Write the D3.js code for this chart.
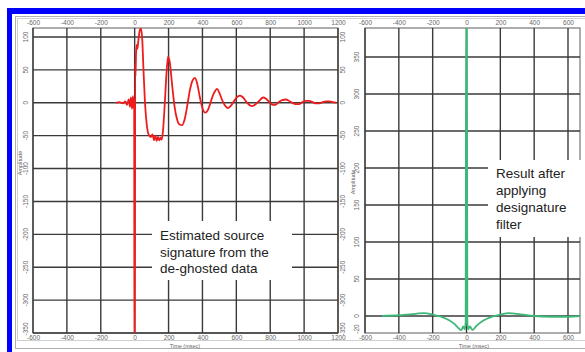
<!DOCTYPE html>
<html><head><meta charset="utf-8">
<script src="https://cdn.jsdelivr.net/npm/d3@7/dist/d3.min.js"></script>
<style>body{margin:0;background:#fff}svg{display:block}</style>
</head><body>
<script>
// ---- data ----
const leftXTicks = [-600,-400,-200,0,200,400,600,800,1000,1200];
const leftYTicks = [-350,-300,-250,-200,-150,-100,-50,0,50,100];
const rightXTicks = [-600,-400,-200,0,200,400,600];
const rightYTicks = [0,50,100,150,200,250,300,350];
const rightYBottomLabel = [-20];
// estimated source signature (time msec, amplitude)
const sourceTime = [-110,-90,-70,-55,-45,-35,-28,-22,-16,-10,-6,-3,-1,1,3,5,8,12,16,22,30,37,45,52,60,70,82,95,105,115,122,130,137,145,152,160,168,178,188,197,207,220,235,250,265,280,295,310,325,340,356,370,385,400,415,430,445,460,475,486,500,515,530,551,570,590,610,622,640,660,680,695,715,735,758,775,795,815,830,850,870,893,910,930,950,970,990,1010,1030,1050,1070,1090,1110,1130,1150,1170,1190];
const sourceAmp  = [0,1,-1,2,-3,5,-6,8,-9,10,-8,6,-420,-420,60,40,75,88,82,95,110,113,95,50,5,-30,-48,-52,-48,-57,-50,-58,-52,-57,-53,-56,-40,0,45,70,62,30,-5,-25,-33,-34,-25,-5,18,33,38,28,8,-8,-15,-12,-2,10,18,21,15,5,-3,-8,-4,4,10,11,8,1,-4,-5,-2,3,8,6,1,-3,-3,1,4,5,3,0,-2,-2,1,3,3,1,-1,-1,1,2,2,1,0];
// result after designature filter
const resultTime = [-500,-400,-300,-250,-200,-150,-100,-70,-45,-30,-20,-10,-5,-2,2,5,10,20,35,60,100,150,200,250,300,400,500,600,680];
const resultAmp  = [0,1,3,4,2,-1,-6,-11,-17,-19,-14,-18,-8,420,420,-8,-18,-14,-19,-13,-6,-1,2,4,3,0,-1,-1,0];

const W = 585, H = 352;
const svg = d3.select("body").append("svg").attr("width", W).attr("height", H);

// blue outer frame
svg.append("rect").attr("x",9.5).attr("y",11).attr("width",W).attr("height",H).attr("fill","none")
  .attr("stroke","#0000ff").attr("stroke-width",5);
svg.append("rect").attr("x",7).attr("y",8).attr("width",W).attr("height",6).attr("fill","#0000ff");
// inner grey frame
svg.append("rect").attr("x",15.5).attr("y",16.5).attr("width",570).attr("height",332).attr("fill","none")
  .attr("stroke","#b0b0b0").attr("stroke-width",1);
svg.append("rect").attr("x",17.5).attr("y",18.5).attr("width",570).attr("height",322).attr("fill","none")
  .attr("stroke","#d0d0d0").attr("stroke-width",1);

const FONT = "'Liberation Sans', Arial, sans-serif";
const fmt = d => String(d);

function panel(opt) {
  const g = svg.append("g");
  const x = d3.scaleLinear().domain(opt.xDomain).range(opt.xRange);
  const y = d3.scaleLinear().domain(opt.yDomain).range(opt.yRange);
  const [L, R] = [opt.box.x0, opt.box.x1];
  const [T, B] = [opt.box.y0, opt.box.y1];
  // frame
  g.append("rect").attr("x",L).attr("y",T).attr("width",R-L).attr("height",B-T)
    .attr("fill","#fff").attr("stroke","#777").attr("stroke-width",1.2);
  // grid
  g.selectAll(".vg").data(opt.xTicks).join("line")
    .attr("x1",d=>x(d)).attr("x2",d=>x(d)).attr("y1",T).attr("y2",B)
    .attr("stroke","#3a3a3a").attr("stroke-width",1.4);
  g.selectAll(".hg").data(opt.yTicks).join("line")
    .attr("x1",L).attr("x2",R).attr("y1",d=>y(d)).attr("y2",d=>y(d))
    .attr("stroke","#3a3a3a").attr("stroke-width",1.4);
  // top / bottom axes labels
  const xa = d3.axisTop(x).tickValues(opt.xTicks).tickFormat(fmt).tickSize(0).tickPadding(3);
  const ga = g.append("g").attr("transform",`translate(0,${T})`).call(xa);
  const xb = d3.axisBottom(x).tickValues(opt.xTicks).tickFormat(fmt).tickSize(0).tickPadding(2);
  const gb = g.append("g").attr("transform",`translate(0,${B})`).call(xb);
  [ga,gb].forEach(a=>{a.select(".domain").remove();
    a.selectAll("text").attr("font-family",FONT).attr("font-size",6.5).attr("fill","#666");});
  // y labels (rotated)
  opt.yLabelX.forEach(lx=>{
    g.selectAll(null).data(opt.yTicks.concat(opt.extraY||[])).join("text")
      .attr("transform",d=>`translate(${lx},${Math.min(y(d),B-4)}) rotate(-90)`)
      .attr("text-anchor","middle").attr("font-family",FONT).attr("font-size",6.5).attr("fill","#666")
      .text(fmt);
  });
  // axis titles
  g.append("text").attr("transform",`translate(${opt.ampX},${opt.ampY}) rotate(-90)`)
    .attr("text-anchor","middle").attr("font-family",FONT).attr("font-size",5.5).attr("fill","#666").text("Amplitude");
  g.append("text").attr("x",opt.timeX).attr("y",B+14.5).attr("text-anchor","middle")
    .attr("font-family",FONT).attr("font-size",5.5).attr("fill","#666").text("Time (msec)");
  // clip
  const id = "clip"+opt.name;
  svg.append("clipPath").attr("id",id).append("rect").attr("x",L).attr("y",T).attr("width",R-L).attr("height",B-T);
  // annotation box
  g.append("rect").attr("x",opt.note.x0).attr("y",opt.note.y0).attr("width",opt.note.x1-opt.note.x0)
    .attr("height",opt.note.y1-opt.note.y0).attr("fill","#fff");
  // curve
  const pts = opt.t.map((d,i)=>[d,opt.v[i]]);
  g.append("path").attr("clip-path",`url(#${id})`).datum(pts)
    .attr("d", d3.line().x(d=>x(d[0])).y(d=>y(d[1])).curve(d3.curveMonotoneX))
    .attr("fill","none").attr("stroke",opt.color).attr("stroke-width",opt.sw);
  // note text
  const tx = g.append("text").attr("font-family",FONT).attr("font-size",13.5).attr("fill","#222");
  opt.note.lines.forEach((s,i)=>tx.append("tspan").attr("x",opt.note.tx).attr("y",opt.note.ty+i*opt.note.lh).text(s));
  return g;
}

panel({name:"L", xDomain:[-600,1200], xRange:[33,338], yDomain:[-350,100], yRange:[333,37],
  box:{x0:33,x1:338,y0:28,y1:333}, xTicks:leftXTicks, yTicks:leftYTicks,
  yLabelX:[28,345], ampX:22, ampY:163, timeX:185,
  t:sourceTime, v:sourceAmp, color:"#ee1c1c", sw:1.8,
  note:{x0:152,x1:292,y0:221,y1:280, tx:160, ty:240, lh:16.5,
    lines:["Estimated source","signature from the","de-ghosted data"]}});

panel({name:"R", xDomain:[-600,600], xRange:[365,568], yDomain:[0,350], yRange:[316,57],
  box:{x0:365,x1:580,y0:28,y1:333}, xTicks:rightXTicks, yTicks:rightYTicks, extraY:rightYBottomLabel,
  yLabelX:[359], ampX:355, ampY:182, timeX:474,
  t:resultTime, v:resultAmp, color:"#3cb878", sw:1.8,
  note:{x0:488,x1:586,y0:160,y1:237, tx:496, ty:178, lh:17,
    lines:["Result after","applying","designature","filter"]}});
</script>
</body></html>
